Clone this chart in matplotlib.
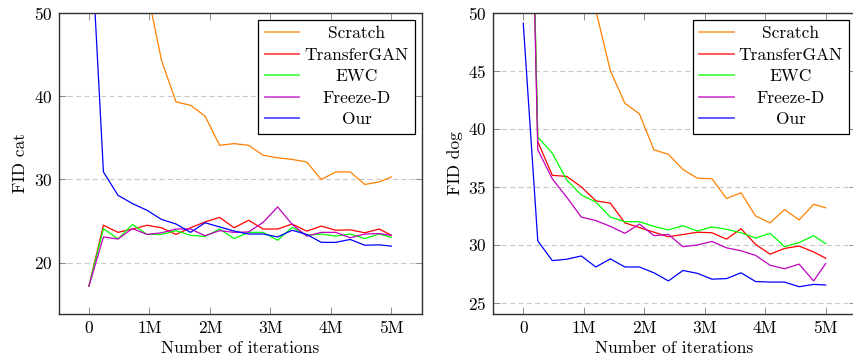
import matplotlib
matplotlib.use('Agg')
import matplotlib.pyplot as plt

plt.rcParams['font.family'] = 'cmr10'
plt.rcParams['mathtext.fontset'] = 'cm'
plt.rcParams['axes.formatter.use_mathtext'] = True
plt.rcParams['font.size'] = 12.5

# iterations (millions)
iters = [0, 0.24, 0.48, 0.72, 0.96, 1.2, 1.44, 1.68, 1.92, 2.16, 2.4,
         2.64, 2.88, 3.12, 3.36, 3.6, 3.84, 4.08, 4.32, 4.56, 4.8, 5.0]
xtick_vals = [0, 1, 2, 3, 4, 5]
xtick_labels = ['0', '1M', '2M', '3M', '4M', '5M']

methods = ['Scratch', 'TransferGAN', 'EWC', 'Freeze-D', 'Our']
colors = ['#ff8000', '#ff0000', '#00ff00', '#bf00bf', '#0000ff']

# FID cat
scratch_cat = [120, 95, 78, 64, 52.8, 44.3, 39.3, 38.9, 37.6, 34.1, 34.3,
               34.1, 32.9, 32.6, 32.4, 32.1, 30.0, 30.9, 30.9, 29.4, 29.7, 30.3]
transfer_cat = [17.2, 24.5, 23.65, 24.05, 24.5, 24.2, 23.4, 24.2, 24.9, 25.45, 24.2,
                25.1, 24.05, 24.05, 24.65, 23.8, 24.4, 23.9, 23.95, 23.6, 24.05, 23.3]
ewc_cat = [17.2, 24.1, 22.85, 24.6, 23.4, 23.4, 23.85, 23.3, 23.15, 24.05, 22.9,
           23.65, 23.65, 22.7, 24.25, 23.3, 23.45, 23.2, 23.45, 22.9, 23.45, 23.05]
freeze_cat = [17.2, 23.1, 22.85, 24.1, 23.4, 23.6, 24.05, 24.05, 23.25, 23.85, 23.65,
              23.7, 24.85, 26.7, 24.6, 23.2, 23.65, 23.65, 23.0, 23.45, 23.5, 23.3]
our_cat = [64, 30.9, 28.1, 27.1, 26.3, 25.2, 24.65, 23.65, 24.8, 24.3, 23.8,
           23.45, 23.45, 23.1, 23.9, 23.4, 22.45, 22.45, 22.8, 22.1, 22.15, 22.0]

# FID dog
scratch_dog = [150, 110, 85, 70, 58, 50.2, 45.0, 42.2, 41.3, 38.2, 37.8,
               36.5, 35.75, 35.7, 34.0, 34.5, 32.5, 31.9, 33.05, 32.15, 33.5, 33.2]
transfer_dog = [95, 38.9, 36.0, 35.9, 35.0, 33.8, 33.6, 31.9, 31.5, 31.1, 30.7,
                30.9, 31.1, 31.05, 30.5, 31.4, 30.05, 29.2, 29.7, 29.9, 29.4, 28.85]
ewc_dog = [96, 39.3, 37.9, 35.6, 34.3, 33.7, 32.4, 32.0, 32.0, 31.6, 31.3,
           31.65, 31.2, 31.55, 31.35, 31.05, 30.6, 31.0, 29.85, 30.2, 30.8, 30.1]
freeze_dog = [94, 38.2, 35.7, 34.1, 32.4, 32.1, 31.6, 31.0, 31.8, 30.8, 30.9,
              29.85, 30.0, 30.3, 29.75, 29.5, 29.1, 28.25, 27.95, 28.35, 26.9, 28.4]
our_dog = [49.1, 30.35, 28.65, 28.77, 29.05, 28.1, 28.8, 28.1, 28.1, 27.6, 26.9,
           27.8, 27.55, 27.05, 27.1, 27.6, 26.85, 26.8, 26.8, 26.4, 26.6, 26.55]

cat_series = [scratch_cat, transfer_cat, ewc_cat, freeze_cat, our_cat]
dog_series = [scratch_dog, transfer_dog, ewc_dog, freeze_dog, our_dog]

fig = plt.figure(figsize=(8.54, 3.62), dpi=100)
ax1 = fig.add_axes([0.0687, 0.1326, 0.425, 0.832])
ax2 = fig.add_axes([0.5773, 0.1326, 0.425, 0.832])


def draw(ax, series, ylabel, ylim, yticks):
    for name, vals, c in zip(methods, series, colors):
        ax.plot(iters, vals, color=c, lw=0.9, label=name)
    ax.set_xlim(-0.5, 5.5)
    ax.set_ylim(*ylim)
    ax.set_xticks(xtick_vals)
    ax.set_xticklabels(xtick_labels)
    ax.set_yticks(yticks)
    ax.yaxis.grid(True, color='#c8c8c8', lw=0.8, linestyle=(0, (4.5, 3)))
    ax.set_axisbelow(True)
    ax.tick_params(direction='in', length=5, width=0.6, color='#808080',
                   top=True, right=True, labelsize=12.5)
    ax.tick_params(axis='y', pad=4.5)
    ax.tick_params(axis='x', pad=4.5)
    for s in ax.spines.values():
        s.set_color('#303030')
        s.set_linewidth(1.0)
    ax.set_xlabel('Number of iterations', fontsize=12.5, labelpad=4)
    ax.set_ylabel(ylabel, fontsize=12.5, labelpad=4)
    leg = ax.legend(loc='upper right', fancybox=False, edgecolor='black',
                    framealpha=1, fontsize=12.5, handlelength=2.0,
                    handletextpad=0.3, labelspacing=0.36, borderpad=0.35,
                    borderaxespad=0.4)
    leg.get_frame().set_linewidth(0.9)
    for ln in leg.get_lines():
        ln.set_linewidth(1.3)
        ln.set_alpha(0.7)
    return leg


leg1 = draw(ax1, cat_series, 'FID cat', (13.85, 50), [20, 30, 40, 50])
leg2 = draw(ax2, dog_series, 'FID dog', (24.05, 50), [25, 30, 35, 40, 45, 50])

# centre the legend labels like the original
renderer = fig.canvas.get_renderer()
for leg in (leg1, leg2):
    texts = leg.get_texts()
    widths = [t.get_window_extent(renderer).width for t in texts]
    maxw = max(widths)
    for t, w in zip(texts, widths):
        t.set_x((maxw - w) / 2)

fig.savefig('out.png', dpi=100)
